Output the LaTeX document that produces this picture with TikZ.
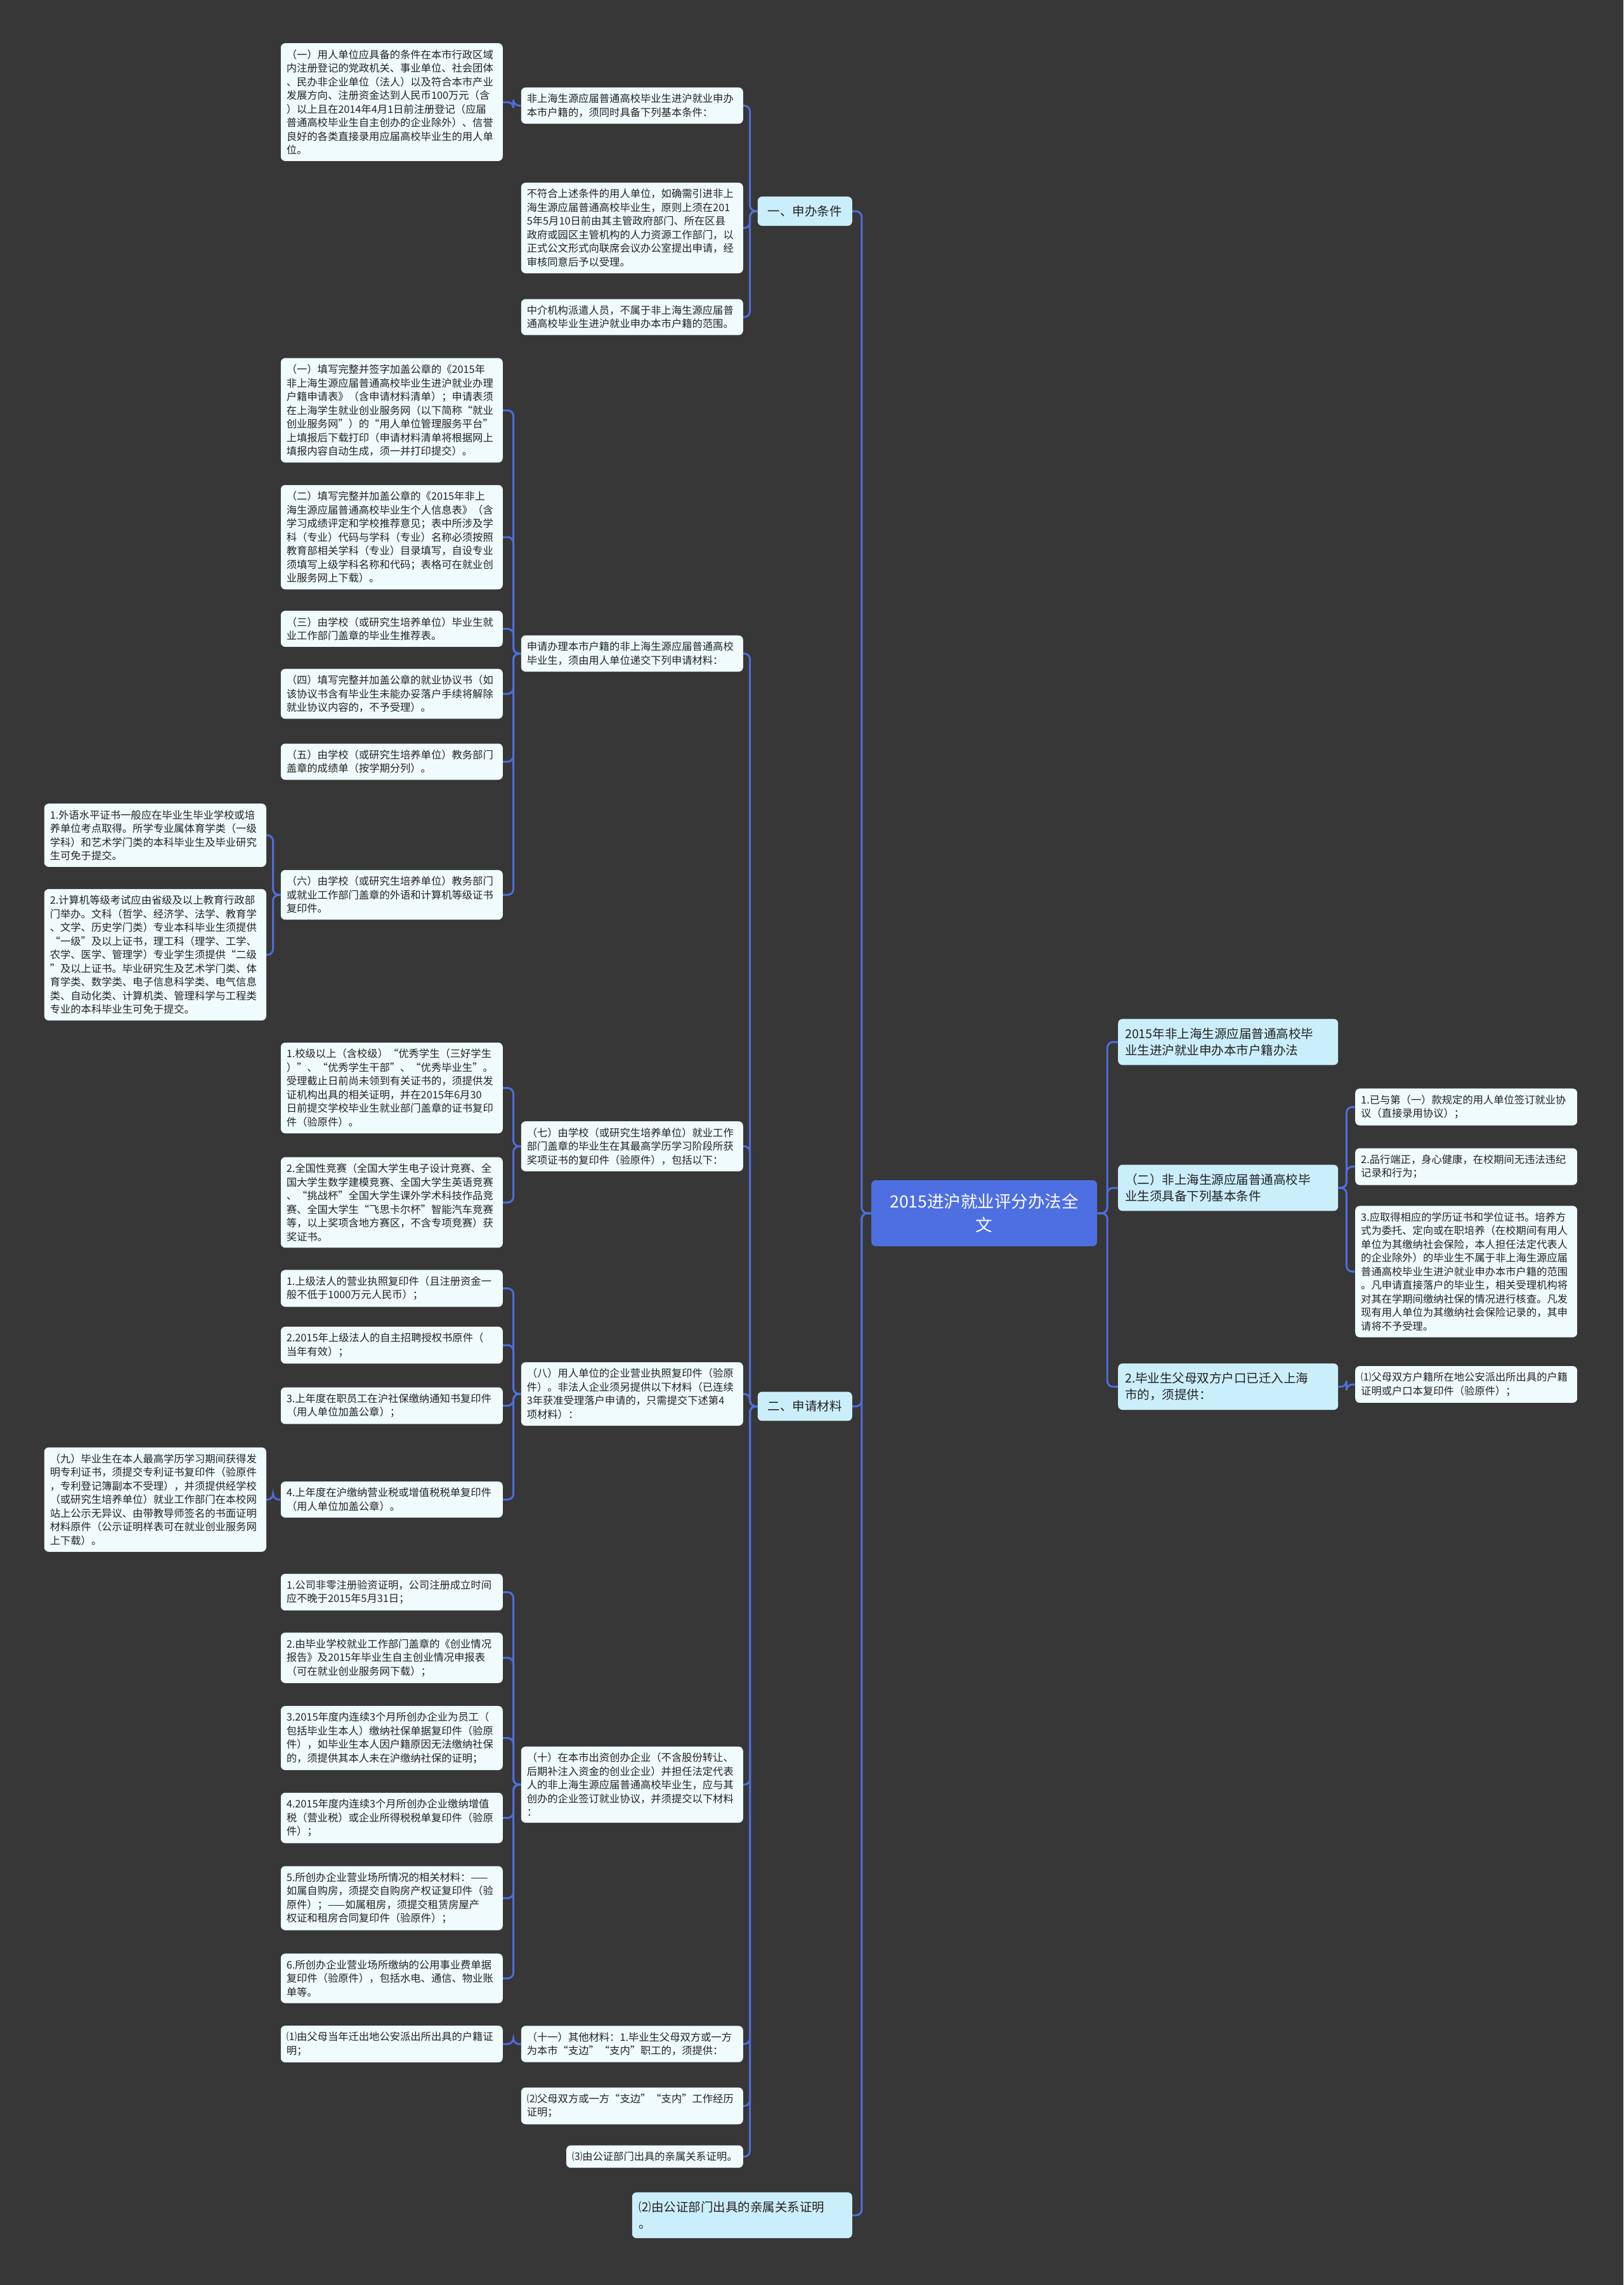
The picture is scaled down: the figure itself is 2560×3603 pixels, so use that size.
\documentclass[tikz,border=0pt]{standalone}
\usepackage{fontspec}
\setmainfont{Noto Sans CJK SC}
\usepackage{tikz}
\definecolor{bgcol}{HTML}{373737}
\definecolor{leafcol}{HTML}{F0FBFD}
\definecolor{brcol}{HTML}{CBEEFB}
\definecolor{topcol}{HTML}{4E6FE2}
\definecolor{linkcol}{HTML}{4F6EDD}
\definecolor{txtcol}{HTML}{222222}
\begin{document}
\begin{tikzpicture}[x=1pt,y=-1pt,
  tag/.style={rectangle, rounded corners=7pt, fill=leafcol, text=txtcol, font=\fontsize{16.3}{21.5}\selectfont, inner xsep=9pt, inner ysep=10pt, align=left},
  leaf/.style={tag, text width=332pt},
  branch/.style={rectangle, rounded corners=7pt, fill=brcol, text=txtcol, font=\fontsize{19.5}{26.5}\selectfont, inner xsep=11pt, inner ysep=14pt, minimum width=149pt, align=left},
  wide/.style={branch, text width=325pt},
  topic/.style={rectangle, rounded corners=7pt, fill=topcol, text=white, font=\fontsize{26.5}{37}\selectfont, minimum width=356pt, minimum height=104pt, text width=330pt, align=center},
  link/.style={draw=linkcol, line width=3pt, rounded corners=9pt}]
% Background
\useasboundingbox (0,0) rectangle (2560,3603);
\fill[bgcol] (0,0) rectangle (2560,3603);
% Root
\node[topic] (root) at (1552,1913) {2015进沪就业评分办法全\\文};
% Left branches
\node[branch, anchor=east] (b1) at (1344,333) {一、申办条件};
\node[branch, anchor=east] (b2) at (1344,2217.5) {二、申请材料};
\node[wide, anchor=east] (b3) at (1344,3493) {⑵由公证部门出具的亲属关系证明\\。};
% Right branches
\node[wide, anchor=west] (r1) at (1763,1643) {2015年非上海生源应届普通高校毕\\业生进沪就业申办本市户籍办法};
\node[wide, anchor=west] (r2) at (1763,1873) {（二）非上海生源应届普通高校毕\\业生须具备下列基本条件};
\node[wide, anchor=west] (r3) at (1763,2186.5) {2.毕业生父母双方户口已迁入上海\\市的，须提供：};
\node[leaf, anchor=west] (rr1) at (2137,1745.5) {1.已与第（一）款规定的用人单位签订就业协\\议（直接录用协议）；};
\node[leaf, anchor=west] (rr2) at (2137,1839.5) {2.品行端正，身心健康，在校期间无违法违纪\\记录和行为；};
\node[leaf, anchor=west] (rr3) at (2137,2005) {3.应取得相应的学历证书和学位证书。培养方\\式为委托、定向或在职培养（在校期间有用人\\单位为其缴纳社会保险，本人担任法定代表人\\的企业除外）的毕业生不属于非上海生源应届\\普通高校毕业生进沪就业申办本市户籍的范围\\。凡申请直接落户的毕业生，相关受理机构将\\对其在学期间缴纳社保的情况进行核查。凡发\\现有用人单位为其缴纳社会保险记录的，其申\\请将不予受理。};
\node[leaf, anchor=west] (rr4) at (2137,2183) {⑴父母双方户籍所在地公安派出所出具的户籍\\证明或户口本复印件（验原件）；};
% 一、申办条件
\node[leaf, anchor=east] (m1) at (1172,166.5) {非上海生源应届普通高校毕业生进沪就业申办\\本市户籍的，须同时具备下列基本条件：};
\node[leaf, anchor=east] (m2) at (1172,359.5) {不符合上述条件的用人单位，如确需引进非上\\海生源应届普通高校毕业生，原则上须在201\\5年5月10日前由其主管政府部门、所在区县\\政府或园区主管机构的人力资源工作部门，以\\正式公文形式向联席会议办公室提出申请，经\\审核同意后予以受理。};
\node[leaf, anchor=east] (m3) at (1172,500) {中介机构派遣人员，不属于非上海生源应届普\\通高校毕业生进沪就业申办本市户籍的范围。};
\node[leaf, anchor=east] (a1) at (793,161) {（一）用人单位应具备的条件在本市行政区域\\内注册登记的党政机关、事业单位、社会团体\\、民办非企业单位（法人）以及符合本市产业\\发展方向、注册资金达到人民币100万元（含\\）以上且在2014年4月1日前注册登记（应届\\普通高校毕业生自主创办的企业除外）、信誉\\良好的各类直接录用应届高校毕业生的用人单\\位。};
% 二、申请材料
\node[leaf, anchor=east] (m4) at (1172,1030.5) {申请办理本市户籍的非上海生源应届普通高校\\毕业生，须由用人单位递交下列申请材料：};
\node[leaf, anchor=east] (l1) at (793,647) {（一）填写完整并签字加盖公章的《2015年\\非上海生源应届普通高校毕业生进沪就业办理\\户籍申请表》（含申请材料清单）；申请表须\\在上海学生就业创业服务网（以下简称“就业\\创业服务网”）的“用人单位管理服务平台”\\上填报后下载打印（申请材料清单将根据网上\\填报内容自动生成，须一并打印提交）。};
\node[leaf, anchor=east] (l2) at (793,847) {（二）填写完整并加盖公章的《2015年非上\\海生源应届普通高校毕业生个人信息表》（含\\学习成绩评定和学校推荐意见；表中所涉及学\\科（专业）代码与学科（专业）名称必须按照\\教育部相关学科（专业）目录填写，自设专业\\须填写上级学科名称和代码；表格可在就业创\\业服务网上下载）。};
\node[leaf, anchor=east] (l3) at (793,991.5) {（三）由学校（或研究生培养单位）毕业生就\\业工作部门盖章的毕业生推荐表。};
\node[leaf, anchor=east] (l4) at (793,1094) {（四）填写完整并加盖公章的就业协议书（如\\该协议书含有毕业生未能办妥落户手续将解除\\就业协议内容的，不予受理）。};
\node[leaf, anchor=east] (l5) at (793,1201) {（五）由学校（或研究生培养单位）教务部门\\盖章的成绩单（按学期分列）。};
\node[leaf, anchor=east] (l6) at (793,1411) {（六）由学校（或研究生培养单位）教务部门\\或就业工作部门盖章的外语和计算机等级证书\\复印件。};
\node[leaf, anchor=east] (f1) at (420,1317) {1.外语水平证书一般应在毕业生毕业学校或培\\养单位考点取得。所学专业属体育学类（一级\\学科）和艺术学门类的本科毕业生及毕业研究\\生可免于提交。};
\node[leaf, anchor=east] (f2) at (420,1505.5) {2.计算机等级考试应由省级及以上教育行政部\\门举办。文科（哲学、经济学、法学、教育学\\、文学、历史学门类）专业本科毕业生须提供\\“一级”及以上证书，理工科（理学、工学、\\农学、医学、管理学）专业学生须提供“二级\\”及以上证书。毕业研究生及艺术学门类、体\\育学类、数学类、电子信息科学类、电气信息\\类、自动化类、计算机类、管理科学与工程类\\专业的本科毕业生可免于提交。};
\node[leaf, anchor=east] (m7) at (1172,1807.5) {（七）由学校（或研究生培养单位）就业工作\\部门盖章的毕业生在其最高学历学习阶段所获\\奖项证书的复印件（验原件），包括以下：};
\node[leaf, anchor=east] (l7a) at (793,1715.5) {1.校级以上（含校级）“优秀学生（三好学生\\）”、“优秀学生干部”、“优秀毕业生”。\\受理截止日前尚未领到有关证书的，须提供发\\证机构出具的相关证明，并在2015年6月30\\日前提交学校毕业生就业部门盖章的证书复印\\件（验原件）。};
\node[leaf, anchor=east] (l7b) at (793,1896) {2.全国性竞赛（全国大学生电子设计竞赛、全\\国大学生数学建模竞赛、全国大学生英语竞赛\\、“挑战杯”全国大学生课外学术科技作品竞\\赛、全国大学生“飞思卡尔杯”智能汽车竞赛\\等，以上奖项含地方赛区，不含专项竞赛）获\\奖证书。};
\node[leaf, anchor=east] (m8) at (1172,2198) {（八）用人单位的企业营业执照复印件（验原\\件）。非法人企业须另提供以下材料（已连续\\3年获准受理落户申请的，只需提交下述第4\\项材料）：};
\node[leaf, anchor=east] (l8a) at (793,2031.5) {1.上级法人的营业执照复印件（且注册资金一\\般不低于1000万元人民币）；};
\node[leaf, anchor=east] (l8b) at (793,2121) {2.2015年上级法人的自主招聘授权书原件（\\当年有效）；};
\node[leaf, anchor=east] (l8c) at (793,2216.5) {3.上年度在职员工在沪社保缴纳通知书复印件\\（用人单位加盖公章）；};
\node[leaf, anchor=east] (l8d) at (793,2364.5) {4.上年度在沪缴纳营业税或增值税税单复印件\\（用人单位加盖公章）。};
\node[leaf, anchor=east] (f9) at (420,2364.5) {（九）毕业生在本人最高学历学习期间获得发\\明专利证书，须提交专利证书复印件（验原件\\，专利登记簿副本不受理），并须提供经学校\\（或研究生培养单位）就业工作部门在本校网\\站上公示无异议、由带教导师签名的书面证明\\材料原件（公示证明样表可在就业创业服务网\\上下载）。};
\node[leaf, anchor=east] (m10) at (1172,2814) {（十）在本市出资创办企业（不含股份转让、\\后期补注入资金的创业企业）并担任法定代表\\人的非上海生源应届普通高校毕业生，应与其\\创办的企业签订就业协议，并须提交以下材料\\：};
\node[leaf, anchor=east] (l10a) at (793,2510.5) {1.公司非零注册验资证明，公司注册成立时间\\应不晚于2015年5月31日；};
\node[leaf, anchor=east] (l10b) at (793,2614) {2.由毕业学校就业工作部门盖章的《创业情况\\报告》及2015年毕业生自主创业情况申报表\\（可在就业创业服务网下载）；};
\node[leaf, anchor=east] (l10c) at (793,2740.5) {3.2015年度内连续3个月所创办企业为员工（\\包括毕业生本人）缴纳社保单据复印件（验原\\件），如毕业生本人因户籍原因无法缴纳社保\\的，须提供其本人未在沪缴纳社保的证明；};
\node[leaf, anchor=east] (l10d) at (793,2866.5) {4.2015年度内连续3个月所创办企业缴纳增值\\税（营业税）或企业所得税税单复印件（验原\\件）；};
\node[leaf, anchor=east] (l10e) at (793,2993) {5.所创办企业营业场所情况的相关材料：——\\如属自购房，须提交自购房产权证复印件（验\\原件）；——如属租房，须提交租赁房屋产\\权证和租房合同复印件（验原件）；};
\node[leaf, anchor=east] (l10f) at (793,3119.5) {6.所创办企业营业场所缴纳的公用事业费单据\\复印件（验原件），包括水电、通信、物业账\\单等。};
\node[leaf, anchor=east] (m11) at (1172,3223) {（十一）其他材料：1.毕业生父母双方或一方\\为本市“支边”“支内”职工的，须提供：};
\node[leaf, anchor=east] (l11) at (793,3223) {⑴由父母当年迁出地公安派出所出具的户籍证\\明；};
\node[leaf, anchor=east] (m12) at (1172,3320.5) {⑵父母双方或一方“支边”“支内”工作经历\\证明；};
\node[tag, anchor=east] (m13) at (1172,3400.5) {⑶由公证部门出具的亲属关系证明。};
% Links from the root
\foreach \c in {b1,b2,b3} \draw[link] (root.west) -- ++(-15,0) |- (\c.east);
\foreach \c in {r1,r2,r3} \draw[link] (root.east) -- ++(16,0) |- (\c.west);
% Links on the right
\foreach \c in {rr1,rr2,rr3} \draw[link] (r2.east) -- ++(13,0) |- (\c.west);
\draw[link] (r3.east) -- ++(13,0) |- (rr4.west);
% Links on the left
\foreach \c in {m1,m2,m3} \draw[link] (b1.west) -- ++(-12,0) |- (\c.east);
\draw[link] (m1.west) -- ++(-12,0) |- (a1.east);
\foreach \c in {m4,m7,m8,m10,m11,m12,m13} \draw[link] (b2.west) -- ++(-12,0) |- (\c.east);
\foreach \c in {l1,l2,l3,l4,l5,l6} \draw[link] (m4.west) -- ++(-12,0) |- (\c.east);
\foreach \c in {f1,f2} \draw[link] (l6.west) -- ++(-12,0) |- (\c.east);
\foreach \c in {l7a,l7b} \draw[link] (m7.west) -- ++(-12,0) |- (\c.east);
\foreach \c in {l8a,l8b,l8c,l8d} \draw[link] (m8.west) -- ++(-12,0) |- (\c.east);
\draw[link] (l8d.west) -- ++(-12,0) |- (f9.east);
\foreach \c in {l10a,l10b,l10c,l10d,l10e,l10f} \draw[link] (m10.west) -- ++(-12,0) |- (\c.east);
\draw[link] (m11.west) -- ++(-12,0) |- (l11.east);
\end{tikzpicture}
\end{document}
